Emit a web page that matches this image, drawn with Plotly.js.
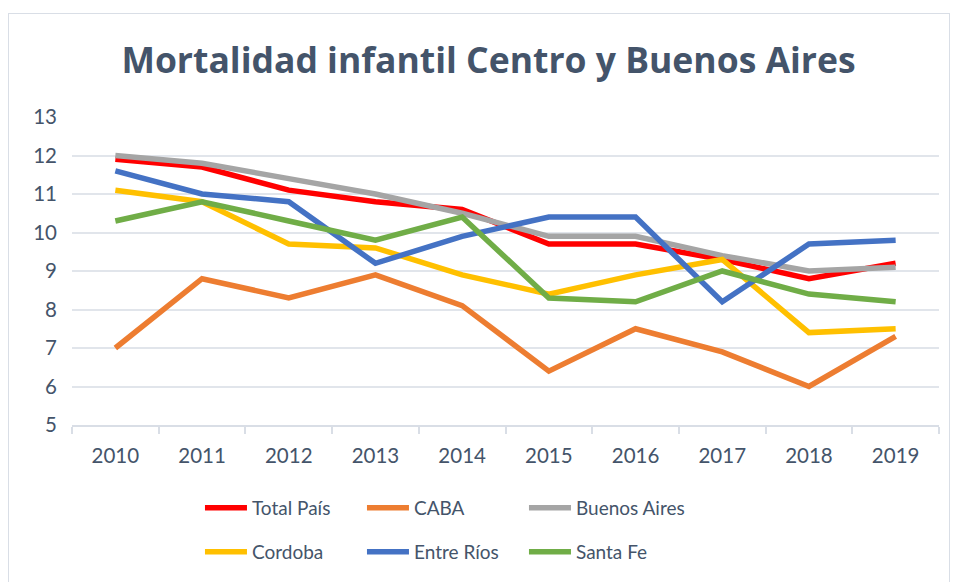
<!DOCTYPE html>
<html>
<head>
<meta charset="utf-8">
<script src="https://cdn.plot.ly/plotly-3.0.1.min.js"></script>
<style>
html,body{margin:0;padding:0;background:#fff;}
#chart{width:955px;height:582px;position:relative;}
#frame{position:absolute;left:8px;top:13px;width:942px;height:575px;border:1px solid #D9DEE6;pointer-events:none;box-sizing:border-box;}
</style>
</head>
<body>
<div id="chart"></div>
<div id="frame"></div>
<script>
const years = ['2010','2011','2012','2013','2014','2015','2016','2017','2018','2019'];
const totalPais   = [11.9, 11.7, 11.1, 10.8, 10.6, 9.7, 9.7, 9.3, 8.8, 9.2];
const caba        = [7.0, 8.8, 8.3, 8.9, 8.1, 6.4, 7.5, 6.9, 6.0, 7.3];
const buenosAires = [12.0, 11.8, 11.4, 11.0, 10.5, 9.9, 9.9, 9.4, 9.0, 9.1];
const cordoba     = [11.1, 10.8, 9.7, 9.6, 8.9, 8.4, 8.9, 9.3, 7.4, 7.5];
const entreRios   = [11.6, 11.0, 10.8, 9.2, 9.9, 10.4, 10.4, 8.2, 9.7, 9.8];
const santaFe     = [10.3, 10.8, 10.3, 9.8, 10.4, 8.3, 8.2, 9.0, 8.4, 8.2];
const seriesNames = ['Total País','CABA','Buenos Aires','Cordoba','Entre Ríos','Santa Fe'];
const seriesColors = ['#FF0000','#ED7D31','#A5A5A5','#FFC000','#4472C4','#70AD47'];
const seriesData = [totalPais, caba, buenosAires, cordoba, entreRios, santaFe];

const traces = seriesData.map((vals, i) => ({
  type: 'scatter', mode: 'lines', name: seriesNames[i], x: years, y: vals,
  line: {color: seriesColors[i], width: 5.5},
  legend: i < 3 ? 'legend' : 'legend2'
}));

const legendCommon = {
  orientation: 'h', xanchor: 'left', yanchor: 'top',
  entrywidth: 105, entrywidthmode: 'pixels', traceorder: 'normal', itemwidth: 42,
  font: {family: 'Lato, sans-serif', size: 19, color: '#44546A'}, bgcolor: 'rgba(0,0,0,0)'
};

const layout = {
  width: 955, height: 582,
  margin: {l: 72, r: 16, t: 117, b: 157, autoexpand: false},
  paper_bgcolor: '#fff', plot_bgcolor: '#fff',
  font: {family: 'Lato, "Open Sans", sans-serif', color: '#44546A', size: 18},
  title: {text: '<b>Mortalidad infantil Centro y Buenos Aires</b>', x: 488.5/955, xanchor: 'center', y: 1 - 61/582, yanchor: 'middle',
          font: {family: '"Open Sans", sans-serif', size: 35.5, color: '#44546A'}},
  xaxis: {type: 'category', range: [-0.5, 9.5], tickson: 'boundaries', ticks: 'outside', ticklen: 7, tickcolor: '#D9DEE6', tickwidth: 2,
          showline: true, linecolor: '#D9DEE6', linewidth: 2, showgrid: false, fixedrange: true, ticklabelstandoff: 11,
          tickfont: {family: 'Lato, sans-serif', size: 20.5, color: '#44546A'}},
  yaxis: {range: [5, 13], dtick: 1, showgrid: true, gridcolor: '#E1E5EB', gridwidth: 2, zeroline: false,
          showline: false, ticks: '', ticklabelstandoff: 14, fixedrange: true,
          tickfont: {family: 'Lato, sans-serif', size: 20.5, color: '#44546A'}},
  showlegend: true,
  legend: Object.assign({x: 0.1476, y: -0.2078}, legendCommon),
  legend2: Object.assign({x: 0.1476, y: -0.3503}, legendCommon)
};

Plotly.newPlot('chart', traces, layout, {displayModeBar: false, staticPlot: true});
</script>
</body>
</html>
